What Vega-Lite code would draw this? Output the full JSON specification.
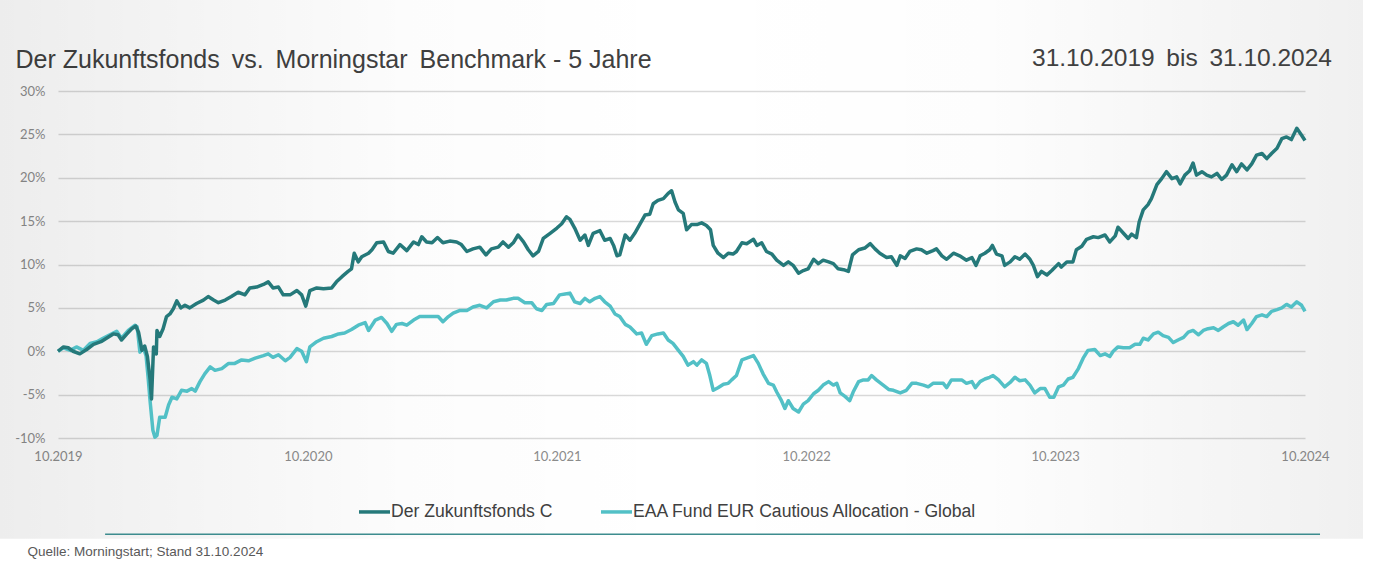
{
  "$schema": "https://vega.github.io/schema/vega-lite/v6.json",
  "autosize": {"type": "none"},
  "width": 1247,
  "height": 347,
  "padding": {"left": 58, "top": 91, "right": 81, "bottom": 132},
  "background": "#ffffff",
  "title": {
    "text": "31.10.2019 \u2009bis \u200931.10.2024",
    "anchor": "end",
    "frame": "group",
    "dx": 27,
    "dy": 95,
    "baseline": "alphabetic",
    "font": "Liberation Sans",
    "fontSize": 24.5,
    "fontWeight": "normal",
    "color": "#404040"
  },
  "config": {"view": {"stroke": null}, "font": "Liberation Sans"},
  "datasets": {
    "fonds": [
      {"date": "2019-10-31", "value": 0.0}, {"date": "2019-11-08", "value": 0.5}, {"date": "2019-11-15", "value": 0.4},
      {"date": "2019-11-22", "value": 0.0}, {"date": "2019-12-02", "value": -0.3}, {"date": "2019-12-12", "value": 0.2},
      {"date": "2019-12-22", "value": 0.8}, {"date": "2020-01-02", "value": 1.1}, {"date": "2020-01-10", "value": 1.5},
      {"date": "2020-01-20", "value": 2.0}, {"date": "2020-01-27", "value": 1.9}, {"date": "2020-02-01", "value": 1.3},
      {"date": "2020-02-09", "value": 2.0}, {"date": "2020-02-16", "value": 2.6}, {"date": "2020-02-22", "value": 2.9},
      {"date": "2020-02-26", "value": 2.2}, {"date": "2020-03-02", "value": 0.1}, {"date": "2020-03-06", "value": 0.6},
      {"date": "2020-03-10", "value": -0.6}, {"date": "2020-03-14", "value": -3.3}, {"date": "2020-03-16", "value": -5.5},
      {"date": "2020-03-19", "value": 0.5}, {"date": "2020-03-23", "value": -0.3}, {"date": "2020-03-24", "value": 2.4},
      {"date": "2020-03-28", "value": 1.7}, {"date": "2020-04-02", "value": 2.6}, {"date": "2020-04-07", "value": 4.0},
      {"date": "2020-04-12", "value": 4.3}, {"date": "2020-04-17", "value": 4.9}, {"date": "2020-04-22", "value": 5.8},
      {"date": "2020-04-28", "value": 5.0}, {"date": "2020-05-04", "value": 5.3}, {"date": "2020-05-11", "value": 5.0},
      {"date": "2020-05-21", "value": 5.5}, {"date": "2020-05-31", "value": 5.9}, {"date": "2020-06-07", "value": 6.3},
      {"date": "2020-06-15", "value": 5.9}, {"date": "2020-06-22", "value": 5.6}, {"date": "2020-07-02", "value": 5.9},
      {"date": "2020-07-11", "value": 6.3}, {"date": "2020-07-21", "value": 6.8}, {"date": "2020-07-31", "value": 6.5},
      {"date": "2020-08-07", "value": 7.3}, {"date": "2020-08-17", "value": 7.4}, {"date": "2020-08-27", "value": 7.7},
      {"date": "2020-09-03", "value": 8.0}, {"date": "2020-09-10", "value": 7.3}, {"date": "2020-09-18", "value": 7.4},
      {"date": "2020-09-25", "value": 6.5}, {"date": "2020-10-05", "value": 6.5}, {"date": "2020-10-15", "value": 7.0},
      {"date": "2020-10-22", "value": 6.5}, {"date": "2020-10-28", "value": 5.2}, {"date": "2020-11-03", "value": 7.0},
      {"date": "2020-11-13", "value": 7.3}, {"date": "2020-11-23", "value": 7.2}, {"date": "2020-12-05", "value": 7.3},
      {"date": "2020-12-12", "value": 8.0}, {"date": "2020-12-20", "value": 8.6}, {"date": "2020-12-29", "value": 9.2},
      {"date": "2021-01-03", "value": 9.5}, {"date": "2021-01-07", "value": 11.3}, {"date": "2021-01-13", "value": 10.3},
      {"date": "2021-01-18", "value": 10.9}, {"date": "2021-01-28", "value": 11.3}, {"date": "2021-02-02", "value": 11.7},
      {"date": "2021-02-09", "value": 12.5}, {"date": "2021-02-19", "value": 12.6}, {"date": "2021-02-26", "value": 11.5},
      {"date": "2021-03-05", "value": 11.3}, {"date": "2021-03-15", "value": 12.3}, {"date": "2021-03-25", "value": 11.6},
      {"date": "2021-04-04", "value": 12.6}, {"date": "2021-04-11", "value": 12.3}, {"date": "2021-04-16", "value": 13.2},
      {"date": "2021-04-23", "value": 12.6}, {"date": "2021-05-01", "value": 12.5}, {"date": "2021-05-09", "value": 13.1},
      {"date": "2021-05-17", "value": 12.5}, {"date": "2021-05-27", "value": 12.7}, {"date": "2021-06-06", "value": 12.6},
      {"date": "2021-06-13", "value": 12.3}, {"date": "2021-06-21", "value": 11.5}, {"date": "2021-06-30", "value": 11.8},
      {"date": "2021-07-10", "value": 12.0}, {"date": "2021-07-19", "value": 11.1}, {"date": "2021-07-27", "value": 11.8},
      {"date": "2021-08-06", "value": 12.0}, {"date": "2021-08-13", "value": 12.6}, {"date": "2021-08-21", "value": 12.0},
      {"date": "2021-08-28", "value": 12.5}, {"date": "2021-09-04", "value": 13.4}, {"date": "2021-09-12", "value": 12.6},
      {"date": "2021-09-19", "value": 11.7}, {"date": "2021-09-26", "value": 11.0}, {"date": "2021-10-04", "value": 11.5},
      {"date": "2021-10-11", "value": 13.0}, {"date": "2021-10-21", "value": 13.6}, {"date": "2021-10-31", "value": 14.2},
      {"date": "2021-11-07", "value": 14.7}, {"date": "2021-11-14", "value": 15.5}, {"date": "2021-11-19", "value": 15.2},
      {"date": "2021-11-26", "value": 14.2}, {"date": "2021-12-04", "value": 12.8}, {"date": "2021-12-11", "value": 13.4},
      {"date": "2021-12-16", "value": 12.2}, {"date": "2021-12-23", "value": 13.6}, {"date": "2022-01-02", "value": 13.9},
      {"date": "2022-01-09", "value": 12.8}, {"date": "2022-01-17", "value": 13.0}, {"date": "2022-01-22", "value": 12.2},
      {"date": "2022-01-27", "value": 11.0}, {"date": "2022-01-31", "value": 11.1}, {"date": "2022-02-08", "value": 13.4},
      {"date": "2022-02-15", "value": 12.8}, {"date": "2022-02-22", "value": 13.6}, {"date": "2022-03-02", "value": 14.7},
      {"date": "2022-03-09", "value": 15.7}, {"date": "2022-03-16", "value": 15.8}, {"date": "2022-03-21", "value": 17.0},
      {"date": "2022-03-28", "value": 17.4}, {"date": "2022-04-05", "value": 17.6}, {"date": "2022-04-12", "value": 18.2},
      {"date": "2022-04-17", "value": 18.5}, {"date": "2022-04-22", "value": 17.2}, {"date": "2022-04-27", "value": 16.3},
      {"date": "2022-05-04", "value": 15.9}, {"date": "2022-05-09", "value": 14.0}, {"date": "2022-05-16", "value": 14.6},
      {"date": "2022-05-24", "value": 14.6}, {"date": "2022-05-31", "value": 14.8}, {"date": "2022-06-07", "value": 14.5},
      {"date": "2022-06-13", "value": 14.0}, {"date": "2022-06-17", "value": 12.2}, {"date": "2022-06-24", "value": 11.3},
      {"date": "2022-07-02", "value": 10.8}, {"date": "2022-07-09", "value": 11.3}, {"date": "2022-07-16", "value": 11.2},
      {"date": "2022-07-21", "value": 11.5}, {"date": "2022-07-29", "value": 12.5}, {"date": "2022-08-05", "value": 12.4},
      {"date": "2022-08-15", "value": 12.9}, {"date": "2022-08-20", "value": 12.2}, {"date": "2022-08-27", "value": 12.5},
      {"date": "2022-09-03", "value": 11.5}, {"date": "2022-09-11", "value": 11.2}, {"date": "2022-09-18", "value": 10.5},
      {"date": "2022-09-28", "value": 9.9}, {"date": "2022-10-05", "value": 10.3}, {"date": "2022-10-12", "value": 9.9},
      {"date": "2022-10-20", "value": 9.0}, {"date": "2022-10-27", "value": 9.3}, {"date": "2022-11-03", "value": 9.5},
      {"date": "2022-11-11", "value": 10.6}, {"date": "2022-11-18", "value": 10.1}, {"date": "2022-11-25", "value": 10.5},
      {"date": "2022-12-03", "value": 10.3}, {"date": "2022-12-10", "value": 10.1}, {"date": "2022-12-17", "value": 9.5},
      {"date": "2022-12-25", "value": 9.4}, {"date": "2023-01-01", "value": 9.2}, {"date": "2023-01-07", "value": 11.1},
      {"date": "2023-01-16", "value": 11.7}, {"date": "2023-01-25", "value": 11.9}, {"date": "2023-02-02", "value": 12.4},
      {"date": "2023-02-09", "value": 11.8}, {"date": "2023-02-16", "value": 11.3}, {"date": "2023-02-26", "value": 10.8},
      {"date": "2023-03-05", "value": 10.9}, {"date": "2023-03-13", "value": 9.9}, {"date": "2023-03-18", "value": 11.0},
      {"date": "2023-03-25", "value": 10.7}, {"date": "2023-04-01", "value": 11.5}, {"date": "2023-04-11", "value": 11.8},
      {"date": "2023-04-18", "value": 11.7}, {"date": "2023-04-26", "value": 11.3}, {"date": "2023-05-05", "value": 11.6},
      {"date": "2023-05-10", "value": 11.8}, {"date": "2023-05-18", "value": 11.0}, {"date": "2023-05-25", "value": 10.6},
      {"date": "2023-06-04", "value": 11.3}, {"date": "2023-06-13", "value": 11.0}, {"date": "2023-06-23", "value": 10.5},
      {"date": "2023-07-01", "value": 10.8}, {"date": "2023-07-07", "value": 9.9}, {"date": "2023-07-13", "value": 11.0},
      {"date": "2023-07-20", "value": 11.3}, {"date": "2023-07-27", "value": 11.7}, {"date": "2023-07-31", "value": 12.2},
      {"date": "2023-08-06", "value": 11.2}, {"date": "2023-08-14", "value": 11.0}, {"date": "2023-08-18", "value": 9.9},
      {"date": "2023-08-26", "value": 10.3}, {"date": "2023-09-02", "value": 10.9}, {"date": "2023-09-09", "value": 10.6},
      {"date": "2023-09-17", "value": 11.2}, {"date": "2023-09-24", "value": 10.6}, {"date": "2023-09-29", "value": 9.9},
      {"date": "2023-10-05", "value": 8.6}, {"date": "2023-10-11", "value": 9.2}, {"date": "2023-10-19", "value": 8.8},
      {"date": "2023-10-26", "value": 9.3}, {"date": "2023-11-05", "value": 10.1}, {"date": "2023-11-09", "value": 9.7},
      {"date": "2023-11-17", "value": 10.3}, {"date": "2023-11-26", "value": 10.3}, {"date": "2023-12-01", "value": 11.7},
      {"date": "2023-12-09", "value": 12.1}, {"date": "2023-12-16", "value": 12.9}, {"date": "2023-12-26", "value": 13.2},
      {"date": "2024-01-02", "value": 13.1}, {"date": "2024-01-12", "value": 13.4}, {"date": "2024-01-19", "value": 12.6},
      {"date": "2024-01-27", "value": 13.3}, {"date": "2024-01-31", "value": 14.3}, {"date": "2024-02-08", "value": 13.6},
      {"date": "2024-02-15", "value": 13.0}, {"date": "2024-02-20", "value": 13.5}, {"date": "2024-02-27", "value": 13.1},
      {"date": "2024-03-02", "value": 14.9}, {"date": "2024-03-08", "value": 16.3}, {"date": "2024-03-15", "value": 16.9},
      {"date": "2024-03-20", "value": 17.6}, {"date": "2024-03-28", "value": 19.2}, {"date": "2024-04-04", "value": 19.9},
      {"date": "2024-04-11", "value": 20.7}, {"date": "2024-04-19", "value": 19.9}, {"date": "2024-04-26", "value": 20.1},
      {"date": "2024-05-01", "value": 19.3}, {"date": "2024-05-08", "value": 20.3}, {"date": "2024-05-15", "value": 20.8},
      {"date": "2024-05-20", "value": 21.7}, {"date": "2024-05-25", "value": 20.3}, {"date": "2024-06-02", "value": 20.7},
      {"date": "2024-06-09", "value": 20.3}, {"date": "2024-06-16", "value": 20.1}, {"date": "2024-06-24", "value": 20.5},
      {"date": "2024-07-01", "value": 19.8}, {"date": "2024-07-08", "value": 20.3}, {"date": "2024-07-16", "value": 21.5},
      {"date": "2024-07-23", "value": 20.7}, {"date": "2024-07-30", "value": 21.6}, {"date": "2024-08-07", "value": 20.9},
      {"date": "2024-08-14", "value": 21.6}, {"date": "2024-08-21", "value": 22.6}, {"date": "2024-08-29", "value": 22.8},
      {"date": "2024-09-05", "value": 22.2}, {"date": "2024-09-12", "value": 22.8}, {"date": "2024-09-20", "value": 23.4},
      {"date": "2024-09-27", "value": 24.5}, {"date": "2024-10-04", "value": 24.7}, {"date": "2024-10-11", "value": 24.4},
      {"date": "2024-10-19", "value": 25.7}, {"date": "2024-10-26", "value": 24.9}, {"date": "2024-10-31", "value": 24.3}
    ],
    "benchmark": [
      {"date": "2019-10-31", "value": 0.0}, {"date": "2019-11-08", "value": 0.4}, {"date": "2019-11-18", "value": 0.1},
      {"date": "2019-11-27", "value": 0.5}, {"date": "2019-12-07", "value": 0.1}, {"date": "2019-12-17", "value": 0.9},
      {"date": "2019-12-27", "value": 1.1}, {"date": "2020-01-05", "value": 1.5}, {"date": "2020-01-15", "value": 1.9},
      {"date": "2020-01-25", "value": 2.3}, {"date": "2020-02-01", "value": 1.5}, {"date": "2020-02-11", "value": 2.4},
      {"date": "2020-02-21", "value": 3.0}, {"date": "2020-02-24", "value": 2.8}, {"date": "2020-02-28", "value": -0.1},
      {"date": "2020-03-04", "value": 0.4}, {"date": "2020-03-08", "value": -0.5}, {"date": "2020-03-11", "value": -3.0},
      {"date": "2020-03-14", "value": -5.8}, {"date": "2020-03-18", "value": -9.1}, {"date": "2020-03-21", "value": -9.9},
      {"date": "2020-03-24", "value": -9.7}, {"date": "2020-03-28", "value": -7.6}, {"date": "2020-04-05", "value": -7.6},
      {"date": "2020-04-10", "value": -6.2}, {"date": "2020-04-15", "value": -5.3}, {"date": "2020-04-22", "value": -5.5},
      {"date": "2020-04-29", "value": -4.5}, {"date": "2020-05-07", "value": -4.6}, {"date": "2020-05-14", "value": -4.3},
      {"date": "2020-05-19", "value": -4.6}, {"date": "2020-05-26", "value": -3.5}, {"date": "2020-06-02", "value": -2.6},
      {"date": "2020-06-10", "value": -1.8}, {"date": "2020-06-17", "value": -2.2}, {"date": "2020-06-27", "value": -2.0},
      {"date": "2020-07-07", "value": -1.4}, {"date": "2020-07-16", "value": -1.4}, {"date": "2020-07-26", "value": -1.0},
      {"date": "2020-08-05", "value": -1.1}, {"date": "2020-08-15", "value": -0.8}, {"date": "2020-08-27", "value": -0.5},
      {"date": "2020-09-03", "value": -0.3}, {"date": "2020-09-10", "value": -0.7}, {"date": "2020-09-18", "value": -0.4},
      {"date": "2020-09-28", "value": -1.1}, {"date": "2020-10-05", "value": -0.7}, {"date": "2020-10-15", "value": 0.3},
      {"date": "2020-10-22", "value": 0.0}, {"date": "2020-10-29", "value": -1.2}, {"date": "2020-11-03", "value": 0.5},
      {"date": "2020-11-13", "value": 1.1}, {"date": "2020-11-23", "value": 1.5}, {"date": "2020-12-05", "value": 1.7},
      {"date": "2020-12-15", "value": 2.0}, {"date": "2020-12-24", "value": 2.1}, {"date": "2021-01-03", "value": 2.5},
      {"date": "2021-01-13", "value": 3.0}, {"date": "2021-01-23", "value": 3.3}, {"date": "2021-01-28", "value": 2.4},
      {"date": "2021-02-07", "value": 3.6}, {"date": "2021-02-16", "value": 3.9}, {"date": "2021-02-24", "value": 3.2},
      {"date": "2021-03-03", "value": 2.3}, {"date": "2021-03-10", "value": 3.1}, {"date": "2021-03-18", "value": 3.2},
      {"date": "2021-03-25", "value": 3.0}, {"date": "2021-04-04", "value": 3.6}, {"date": "2021-04-13", "value": 4.0},
      {"date": "2021-04-23", "value": 4.0}, {"date": "2021-05-03", "value": 4.0}, {"date": "2021-05-10", "value": 4.0},
      {"date": "2021-05-17", "value": 3.4}, {"date": "2021-05-25", "value": 4.0}, {"date": "2021-06-01", "value": 4.4},
      {"date": "2021-06-11", "value": 4.7}, {"date": "2021-06-21", "value": 4.7}, {"date": "2021-06-30", "value": 5.1},
      {"date": "2021-07-10", "value": 5.3}, {"date": "2021-07-20", "value": 5.0}, {"date": "2021-07-30", "value": 5.7},
      {"date": "2021-08-09", "value": 5.9}, {"date": "2021-08-18", "value": 5.9}, {"date": "2021-08-28", "value": 6.1},
      {"date": "2021-09-04", "value": 6.1}, {"date": "2021-09-14", "value": 5.6}, {"date": "2021-09-24", "value": 5.6},
      {"date": "2021-10-01", "value": 4.9}, {"date": "2021-10-09", "value": 4.7}, {"date": "2021-10-16", "value": 5.4},
      {"date": "2021-10-26", "value": 5.5}, {"date": "2021-11-04", "value": 6.5}, {"date": "2021-11-12", "value": 6.6},
      {"date": "2021-11-19", "value": 6.7}, {"date": "2021-11-26", "value": 5.7}, {"date": "2021-12-04", "value": 5.5},
      {"date": "2021-12-11", "value": 6.1}, {"date": "2021-12-18", "value": 5.7}, {"date": "2021-12-26", "value": 6.1},
      {"date": "2022-01-02", "value": 6.3}, {"date": "2022-01-09", "value": 5.7}, {"date": "2022-01-17", "value": 5.2},
      {"date": "2022-01-24", "value": 4.3}, {"date": "2022-01-31", "value": 4.0}, {"date": "2022-02-08", "value": 3.1},
      {"date": "2022-02-15", "value": 2.8}, {"date": "2022-02-25", "value": 2.0}, {"date": "2022-03-04", "value": 2.1},
      {"date": "2022-03-11", "value": 0.8}, {"date": "2022-03-19", "value": 1.8}, {"date": "2022-03-28", "value": 2.0},
      {"date": "2022-04-05", "value": 2.1}, {"date": "2022-04-12", "value": 1.3}, {"date": "2022-04-19", "value": 0.9},
      {"date": "2022-04-27", "value": 0.1}, {"date": "2022-05-04", "value": -0.6}, {"date": "2022-05-11", "value": -1.6},
      {"date": "2022-05-19", "value": -1.2}, {"date": "2022-05-24", "value": -1.6}, {"date": "2022-05-31", "value": -1.0},
      {"date": "2022-06-07", "value": -1.4}, {"date": "2022-06-12", "value": -2.8}, {"date": "2022-06-17", "value": -4.5},
      {"date": "2022-06-24", "value": -4.2}, {"date": "2022-07-02", "value": -3.8}, {"date": "2022-07-09", "value": -3.7},
      {"date": "2022-07-14", "value": -3.3}, {"date": "2022-07-21", "value": -2.8}, {"date": "2022-07-29", "value": -1.0},
      {"date": "2022-08-05", "value": -0.8}, {"date": "2022-08-15", "value": -0.5}, {"date": "2022-08-22", "value": -1.4},
      {"date": "2022-08-29", "value": -2.6}, {"date": "2022-09-06", "value": -3.7}, {"date": "2022-09-13", "value": -3.9},
      {"date": "2022-09-18", "value": -4.7}, {"date": "2022-09-25", "value": -5.7}, {"date": "2022-09-30", "value": -6.6},
      {"date": "2022-10-05", "value": -5.7}, {"date": "2022-10-12", "value": -6.6}, {"date": "2022-10-20", "value": -7.0},
      {"date": "2022-10-27", "value": -6.1}, {"date": "2022-11-03", "value": -5.7}, {"date": "2022-11-11", "value": -4.9},
      {"date": "2022-11-18", "value": -4.5}, {"date": "2022-11-25", "value": -3.9}, {"date": "2022-12-03", "value": -3.5},
      {"date": "2022-12-10", "value": -3.9}, {"date": "2022-12-15", "value": -3.7}, {"date": "2022-12-20", "value": -4.8},
      {"date": "2022-12-27", "value": -5.2}, {"date": "2023-01-03", "value": -5.7}, {"date": "2023-01-08", "value": -4.7},
      {"date": "2023-01-16", "value": -3.5}, {"date": "2023-01-23", "value": -3.3}, {"date": "2023-01-30", "value": -3.3},
      {"date": "2023-02-04", "value": -2.8}, {"date": "2023-02-11", "value": -3.3}, {"date": "2023-02-21", "value": -3.9},
      {"date": "2023-03-01", "value": -4.4}, {"date": "2023-03-08", "value": -4.5}, {"date": "2023-03-18", "value": -4.8},
      {"date": "2023-03-27", "value": -4.5}, {"date": "2023-04-04", "value": -3.7}, {"date": "2023-04-11", "value": -3.7},
      {"date": "2023-04-21", "value": -3.9}, {"date": "2023-04-28", "value": -4.1}, {"date": "2023-05-05", "value": -3.7},
      {"date": "2023-05-13", "value": -3.7}, {"date": "2023-05-20", "value": -3.7}, {"date": "2023-05-25", "value": -4.2},
      {"date": "2023-06-01", "value": -3.3}, {"date": "2023-06-08", "value": -3.3}, {"date": "2023-06-16", "value": -3.3},
      {"date": "2023-06-23", "value": -3.7}, {"date": "2023-07-01", "value": -3.5}, {"date": "2023-07-06", "value": -4.2},
      {"date": "2023-07-13", "value": -3.5}, {"date": "2023-07-20", "value": -3.2}, {"date": "2023-07-27", "value": -3.0},
      {"date": "2023-08-01", "value": -2.8}, {"date": "2023-08-09", "value": -3.3}, {"date": "2023-08-18", "value": -4.1},
      {"date": "2023-08-26", "value": -3.6}, {"date": "2023-09-02", "value": -3.0}, {"date": "2023-09-09", "value": -3.4},
      {"date": "2023-09-17", "value": -3.3}, {"date": "2023-09-24", "value": -3.9}, {"date": "2023-10-01", "value": -4.8},
      {"date": "2023-10-09", "value": -4.3}, {"date": "2023-10-16", "value": -4.3}, {"date": "2023-10-23", "value": -5.3},
      {"date": "2023-10-29", "value": -5.3}, {"date": "2023-11-05", "value": -4.1}, {"date": "2023-11-12", "value": -3.9},
      {"date": "2023-11-19", "value": -3.2}, {"date": "2023-11-26", "value": -3.0}, {"date": "2023-12-04", "value": -2.0},
      {"date": "2023-12-11", "value": -0.8}, {"date": "2023-12-18", "value": 0.1}, {"date": "2023-12-28", "value": 0.2},
      {"date": "2024-01-05", "value": -0.5}, {"date": "2024-01-12", "value": -0.3}, {"date": "2024-01-19", "value": -0.6},
      {"date": "2024-01-24", "value": 0.0}, {"date": "2024-01-31", "value": 0.5}, {"date": "2024-02-08", "value": 0.4},
      {"date": "2024-02-17", "value": 0.4}, {"date": "2024-02-25", "value": 0.8}, {"date": "2024-03-03", "value": 0.8},
      {"date": "2024-03-08", "value": 1.5}, {"date": "2024-03-15", "value": 1.3}, {"date": "2024-03-23", "value": 2.0},
      {"date": "2024-03-30", "value": 2.2}, {"date": "2024-04-06", "value": 1.8}, {"date": "2024-04-14", "value": 1.6},
      {"date": "2024-04-21", "value": 1.0}, {"date": "2024-04-28", "value": 1.3}, {"date": "2024-05-06", "value": 1.6},
      {"date": "2024-05-13", "value": 2.2}, {"date": "2024-05-20", "value": 2.4}, {"date": "2024-05-28", "value": 1.9},
      {"date": "2024-06-04", "value": 2.4}, {"date": "2024-06-11", "value": 2.6}, {"date": "2024-06-19", "value": 2.7},
      {"date": "2024-06-26", "value": 2.4}, {"date": "2024-07-03", "value": 2.8}, {"date": "2024-07-11", "value": 3.2},
      {"date": "2024-07-18", "value": 3.4}, {"date": "2024-07-25", "value": 3.0}, {"date": "2024-08-02", "value": 3.6},
      {"date": "2024-08-07", "value": 2.5}, {"date": "2024-08-14", "value": 3.2}, {"date": "2024-08-21", "value": 4.0},
      {"date": "2024-08-29", "value": 4.2}, {"date": "2024-09-05", "value": 4.0}, {"date": "2024-09-12", "value": 4.6},
      {"date": "2024-09-20", "value": 4.8}, {"date": "2024-09-27", "value": 5.0}, {"date": "2024-10-04", "value": 5.4},
      {"date": "2024-10-11", "value": 5.1}, {"date": "2024-10-19", "value": 5.7}, {"date": "2024-10-26", "value": 5.3},
      {"date": "2024-10-31", "value": 4.6}
    ]
  },
  "layer": [
    {
      "data": {"values": [{}]},
      "mark": {
        "type": "rect",
        "fill": {
          "gradient": "linear", "x1": 0, "y1": 0, "x2": 1, "y2": 0,
          "stops": [
            {"offset": 0, "color": "rgba(0,0,0,0.07)"},
            {"offset": 0.3, "color": "rgba(0,0,0,0.012)"},
            {"offset": 0.5, "color": "rgba(0,0,0,0)"},
            {"offset": 0.72, "color": "rgba(0,0,0,0.008)"},
            {"offset": 1, "color": "rgba(0,0,0,0.06)"}
          ]
        }
      },
      "encoding": {
        "x": {
          "datum": {"year": 2019, "month": 8, "date": 7}, "type": "temporal",
          "scale": {"domain": [{"year": 2019, "month": 10, "date": 31}, {"year": 2024, "month": 10, "date": 31}]},
          "axis": {
            "values": [
              {"year": 2019, "month": 10, "date": 31}, {"year": 2020, "month": 10, "date": 31},
              {"year": 2021, "month": 10, "date": 31}, {"year": 2022, "month": 10, "date": 31},
              {"year": 2023, "month": 10, "date": 31}, {"year": 2024, "month": 10, "date": 31}
            ],
            "format": "%m.%Y",
            "labelFont": "Lato", "labelFontSize": 13, "labelColor": "#8c8c8c",
            "labelFlush": false, "labelPadding": 12,
            "domain": false, "ticks": false, "grid": false,
            "title": "Quelle: Morningstart; Stand 31.10.2024",
            "titleX": -31, "titleY": 113, "titleAlign": "left", "titleBaseline": "middle", "titleLimit": 1000,
            "titleFont": "Liberation Sans", "titleFontSize": 13.5, "titleFontWeight": "normal", "titleColor": "#595959"
          }
        },
        "x2": {"datum": {"year": 2025, "month": 1, "date": 24}},
        "y": {
          "datum": 40.5, "type": "quantitative",
          "scale": {"domain": [-10, 30], "nice": false},
          "axis": {
            "values": [-10, -5, 0, 5, 10, 15, 20, 25, 30],
            "labelExpr": "datum.value + '%'",
            "labelFont": "Lato", "labelFontSize": 13, "labelColor": "#8c8c8c", "labelPadding": 13,
            "domain": false, "ticks": false,
            "grid": true, "gridColor": "#d9d9d9", "gridWidth": 1.5,
            "title": "Der Zukunftsfonds \u2009vs. \u2009Morningstar \u2009Benchmark - 5 Jahre",
            "titleAngle": 0, "titleX": -43, "titleY": -24, "titleAlign": "left", "titleBaseline": "alphabetic", "titleLimit": 1000,
            "titleFont": "Liberation Sans", "titleFontSize": 25, "titleFontWeight": "normal", "titleColor": "#404040"
          }
        },
        "y2": {"datum": -21.6}
      }
    },
    {
      "data": {"name": "benchmark"},
      "mark": {"type": "line", "strokeWidth": 3.5, "strokeJoin": "round"},
      "encoding": {
        "x": {"field": "date", "type": "temporal"},
        "y": {"field": "value", "type": "quantitative"},
        "color": {
          "datum": "EAA Fund EUR Cautious Allocation - Global", "type": "nominal",
          "scale": {"domain": ["Der Zukunftsfonds C", "EAA Fund EUR Cautious Allocation - Global"], "range": ["#25797a", "#52c0c6"]},
          "legend": {
            "orient": "none", "legendX": 299, "legendY": 403, "direction": "horizontal", "title": null,
            "symbolType": "stroke", "symbolSize": 961, "symbolStrokeWidth": 3.5,
            "labelFont": "Liberation Sans", "labelFontSize": 17.6, "labelColor": "#404040", "labelLimit": 0,
            "labelOffset": -1, "columnPadding": 41
          }
        }
      }
    },
    {
      "data": {"name": "fonds"},
      "mark": {"type": "line", "strokeWidth": 3.5, "strokeJoin": "round"},
      "encoding": {
        "x": {"field": "date", "type": "temporal"},
        "y": {"field": "value", "type": "quantitative"},
        "color": {"datum": "Der Zukunftsfonds C", "type": "nominal"}
      }
    },
    {
      "data": {"values": [{}]},
      "mark": {"type": "rule", "color": "#3d8c8e", "strokeWidth": 1.5},
      "encoding": {
        "x": {"datum": {"year": 2020, "month": 1, "date": 8}, "type": "temporal"},
        "x2": {"datum": {"year": 2024, "month": 11, "date": 22}},
        "y": {"datum": -21.1, "type": "quantitative"}
      }
    }
  ]
}
